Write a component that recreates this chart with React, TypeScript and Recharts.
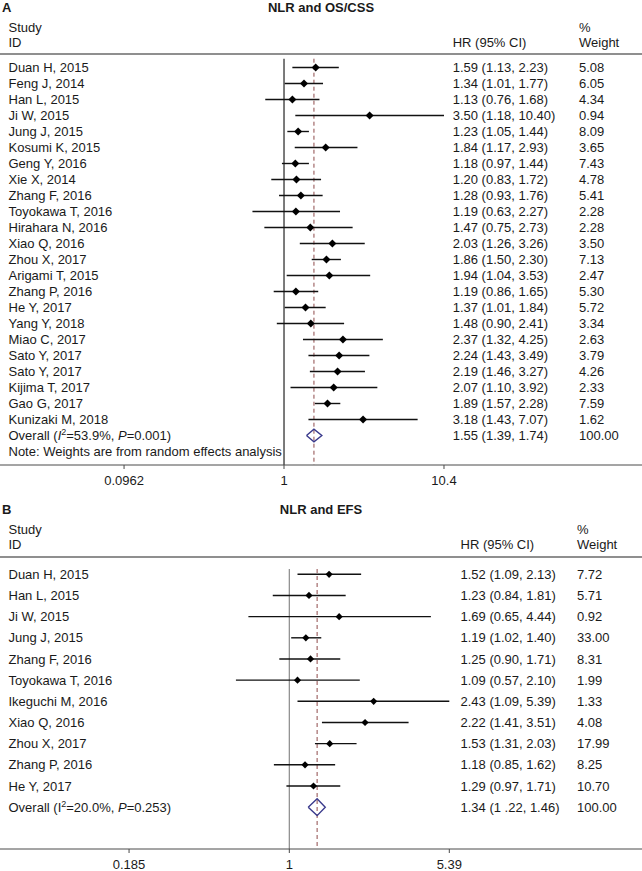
import React from 'react';
import { ScatterChart, Scatter, XAxis, YAxis, ErrorBar, ReferenceLine } from 'recharts';

const FONT = "'Liberation Sans', Arial, Helvetica, sans-serif";

// Panel A: NLR and OS/CSS
const STUDIES_A = [
  'Duan H, 2015', 'Feng J, 2014', 'Han L, 2015', 'Ji W, 2015', 'Jung J, 2015', 'Kosumi K, 2015',
  'Geng Y, 2016', 'Xie X, 2014', 'Zhang F, 2016', 'Toyokawa T, 2016', 'Hirahara N, 2016', 'Xiao Q, 2016',
  'Zhou X, 2017', 'Arigami T, 2015', 'Zhang P, 2016', 'He Y, 2017', 'Yang Y, 2018', 'Miao C, 2017',
  'Sato Y, 2017', 'Sato Y, 2017', 'Kijima T, 2017', 'Gao G, 2017', 'Kunizaki M, 2018',
];
const HR_A = [1.59, 1.34, 1.13, 3.5, 1.23, 1.84, 1.18, 1.2, 1.28, 1.19, 1.47, 2.03, 1.86, 1.94, 1.19, 1.37, 1.48, 2.37, 2.24, 2.19, 2.07, 1.89, 3.18];
const LO_A = [1.13, 1.01, 0.76, 1.18, 1.05, 1.17, 0.97, 0.83, 0.93, 0.63, 0.75, 1.26, 1.5, 1.04, 0.86, 1.01, 0.9, 1.32, 1.43, 1.46, 1.1, 1.57, 1.43];
const HI_A = [2.23, 1.77, 1.68, 10.4, 1.44, 2.93, 1.44, 1.72, 1.76, 2.27, 2.73, 3.26, 2.3, 3.53, 1.65, 1.84, 2.41, 4.25, 3.49, 3.27, 3.92, 2.28, 7.07];
const WEIGHT_A = [5.08, 6.05, 4.34, 0.94, 8.09, 3.65, 7.43, 4.78, 5.41, 2.28, 2.28, 3.5, 7.13, 2.47, 5.3, 5.72, 3.34, 2.63, 3.79, 4.26, 2.33, 7.59, 1.62];
const OVERALL_A = [1.55, 1.39, 1.74];
const OVERALL_TEXT_A = '1.55 (1.39, 1.74)';
const HET_A = ['53.9%', '0.001'];
const TICKS_A = [0.0962, 1, 10.4];

// Panel B: NLR and EFS
const STUDIES_B = [
  'Duan H, 2015', 'Han L, 2015', 'Ji W, 2015', 'Jung J, 2015', 'Zhang F, 2016', 'Toyokawa T, 2016',
  'Ikeguchi M, 2016', 'Xiao Q, 2016', 'Zhou X, 2017', 'Zhang P, 2016', 'He Y, 2017',
];
const HR_B = [1.52, 1.23, 1.69, 1.19, 1.25, 1.09, 2.43, 2.22, 1.53, 1.18, 1.29];
const LO_B = [1.09, 0.84, 0.65, 1.02, 0.9, 0.57, 1.09, 1.41, 1.31, 0.85, 0.97];
const HI_B = [2.13, 1.81, 4.44, 1.4, 1.71, 2.1, 5.39, 3.51, 2.03, 1.62, 1.71];
const WEIGHT_B = [7.72, 5.71, 0.92, 33.0, 8.31, 1.99, 1.33, 4.08, 17.99, 8.25, 10.7];
const OVERALL_B = [1.34, 1.22, 1.46];
const OVERALL_TEXT_B = '1.34 (1 .22, 1.46)';
const HET_B = ['20.0%', '0.253'];
const TICKS_B = [0.185, 1, 5.39];

const NOTE = 'Note: Weights are from random effects analysis';

const f2 = (v: number) => v.toFixed(2);

function Forest(props: any) {
  const {
    names, hr, lo, hi, weights, overall, overallText, het, ticks, italicI, note,
    height, axisHeight, xDomain, yDomain, nullTop, hrX, wX, tickMargin, mark, nullColor,
  } = props;
  const n = names.length;
  const rows = names.map((_: string, i: number) => ({ x: hr[i], y: i, err: [hr[i] - lo[i], hi[i] - hr[i]] }));
  const [oHr, oLo, oHi] = overall;
  const diamond = [
    { x: oLo, y: n }, { x: oHr, y: n - 0.4 }, { x: oHi, y: n }, { x: oHr, y: n + 0.4 }, { x: oLo, y: n },
  ];
  // one invisible point per text row; its shape writes the text columns
  const textRows = names.map((_: string, i: number) => ({ x: 1, y: i, row: i }))
    .concat([{ x: 1, y: n, row: n }])
    .concat(note ? [{ x: 1, y: n + 1, row: n + 1 }] : []);

  const renderRow = (s: any) => {
    const i = s.payload.row;
    const y = s.cy;
    const common = { y, dy: '0.35em', fontSize: 13, fontFamily: FONT, fill: '#1a1a1a' };
    if (i < n) {
      return (
        <g>
          <text x={8.5} {...common}>{names[i]}</text>
          <text x={hrX} {...common}>{`${f2(hr[i])} (${f2(lo[i])}, ${f2(hi[i])})`}</text>
          <text x={wX} {...common}>{f2(weights[i])}</text>
        </g>
      );
    }
    if (i === n) {
      return (
        <g>
          <text x={8.5} {...common}>
            Overall (<tspan fontStyle={italicI ? 'italic' : 'normal'}>I</tspan>
            <tspan dy={-5} fontSize={9}>2</tspan>
            <tspan dy={5}>={het[0]}, </tspan>
            <tspan fontStyle="italic">P</tspan>={het[1]})
          </text>
          <text x={hrX} {...common}>{overallText}</text>
          <text x={wX} {...common}>100.00</text>
        </g>
      );
    }
    return <text x={8.5} {...common}>{NOTE}</text>;
  };

  return (
    <ScatterChart width={642} height={height} margin={{ top: 0, right: 0, bottom: 0, left: 0 }}>
      <XAxis
        dataKey="x"
        type="number"
        scale="log"
        domain={xDomain}
        allowDataOverflow
        ticks={ticks}
        interval={0}
        tickSize={4}
        tickMargin={tickMargin}
        height={axisHeight}
        stroke="#4a4a4a"
        tick={{ fill: '#1a1a1a', fontSize: 13, fontFamily: FONT }}
      />
      <YAxis dataKey="y" type="number" domain={yDomain} allowDataOverflow reversed hide />
      <Scatter data={textRows} isAnimationActive={false} shape={renderRow} />
      <ReferenceLine
        segment={[{ x: 1, y: nullTop }, { x: 1, y: yDomain[1] }]}
        stroke={nullColor}
        strokeWidth={1.2}
        ifOverflow="visible"
      />
      <ReferenceLine
        segment={[{ x: oHr, y: nullTop }, { x: oHr, y: yDomain[1] }]}
        stroke="#8e4a4a"
        strokeDasharray="4 3"
        strokeWidth={1}
        ifOverflow="visible"
      />
      <Scatter
        data={rows}
        isAnimationActive={false}
        fill="#000"
        shape={(s: any) => (
          <path
            d={`M${s.cx - mark},${s.cy}L${s.cx},${s.cy - mark}L${s.cx + mark},${s.cy}L${s.cx},${s.cy + mark}Z`}
            fill="#000"
          />
        )}
      >
        <ErrorBar dataKey="err" direction="x" width={0} stroke="#111" strokeWidth={1.4} />
      </Scatter>
      <Scatter
        data={diamond}
        isAnimationActive={false}
        line={{ stroke: '#3a3a8c', strokeWidth: 1.4 }}
        lineType="joint"
        shape={() => <g />}
      />
    </ScatterChart>
  );
}

function Header({ top, letter, title, hrX, wX, lineY }: any) {
  const t = { fontSize: 13, fontFamily: FONT, fill: '#1a1a1a', dy: '0.35em' };
  return (
    <g>
      <text x={2} y={top} {...t} fontWeight="bold">{letter}</text>
      <text x={321} y={top} {...t} fontWeight="bold" textAnchor="middle">{title}</text>
      <text x={8.5} y={top + 20.5} {...t}>Study</text>
      <text x={8.5} y={top + 35.5} {...t}>ID</text>
      <text x={hrX} y={top + 35.5} {...t}>HR (95% CI)</text>
      <text x={wX} y={top + 20.5} {...t}>%</text>
      <text x={wX} y={top + 35.5} {...t}>Weight</text>
      <line x1={0} x2={642} y1={lineY} y2={lineY} stroke="#8f8f8f" strokeWidth={2} />
    </g>
  );
}

export default function App() {
  return (
    <div style={{ position: 'absolute', left: 0, top: 0, width: 642, height: 871, background: '#fff', overflow: 'hidden' }}>
      <div style={{ position: 'absolute', left: 0, top: 0 }}>
        <Forest
          names={STUDIES_A} hr={HR_A} lo={LO_A} hi={HI_A} weights={WEIGHT_A}
          overall={OVERALL_A} overallText={OVERALL_TEXT_A} het={HET_A} ticks={TICKS_A}
          italicI note
          height={500} axisHeight={35}
          xDomain={[0.01565, 188.7]} yDomain={[-4.21875, 24.84375]}
          nullTop={-0.55} hrX={452.7} wX={579} tickMargin={7} mark={4}
          nullColor="#222"
        />
      </div>
      <div style={{ position: 'absolute', left: 0, top: 500 }}>
        <Forest
          names={STUDIES_B} hr={HR_B} lo={LO_B} hi={HI_B} weights={WEIGHT_B}
          overall={OVERALL_B} overallText={OVERALL_TEXT_B} het={HET_B} ticks={TICKS_B}
          italicI={false} note={false}
          height={380} axisHeight={31}
          xDomain={[0.04754, 40.99]} yDomain={[-3.5094, 12.9764]}
          nullTop={-0.25} hrX={460.5} wX={577} tickMargin={7} mark={3.6}
          nullColor="#8a8a8a"
        />
      </div>
      <svg width={642} height={871} style={{ position: 'absolute', left: 0, top: 0, pointerEvents: 'none' }}>
        <Header top={7} letter="A" title="NLR and OS/CSS" hrX={452.7} wX={579} lineY={54} />
        <Header top={509} letter="B" title="NLR and EFS" hrX={460.5} wX={577} lineY={557} />
      </svg>
    </div>
  );
}
